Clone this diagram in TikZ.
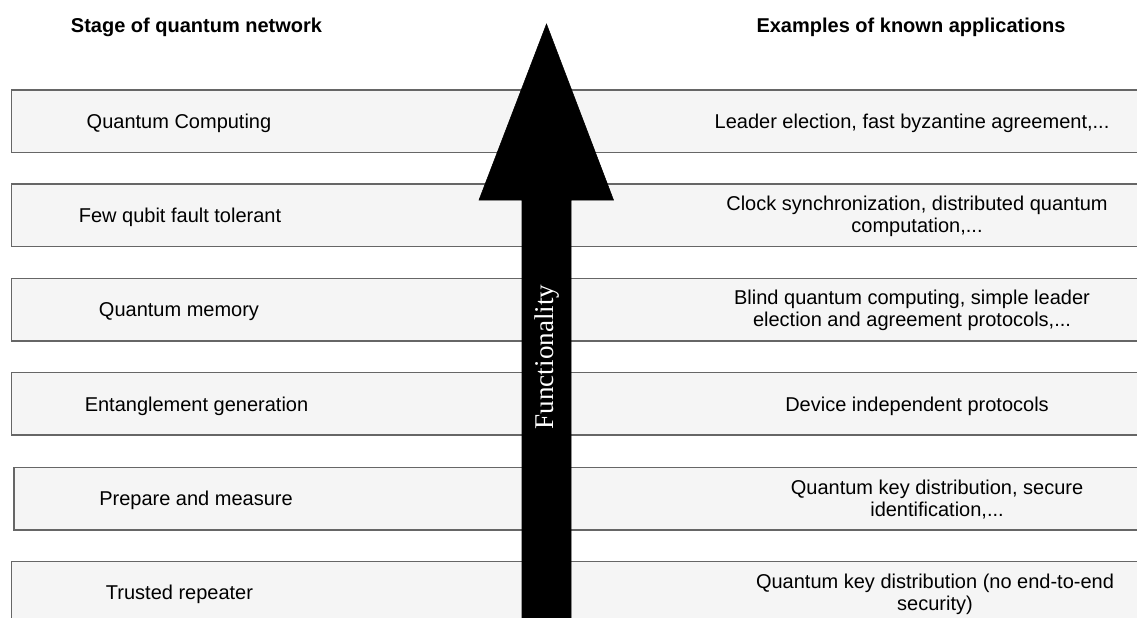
\documentclass[tikz,border=0pt]{standalone}
\usepackage{fontspec}
\setmainfont{Liberation Sans}
\newfontfamily\arrowfont{Liberation Serif}
\usepackage{xcolor}
\usepackage{tikz}
\usetikzlibrary{positioning}
\definecolor{stagefill}{HTML}{F5F5F5}
\definecolor{stageline}{HTML}{666666}
\tikzstyle{stage} = [rectangle, 
anchor=north west, 
minimum width=930pt, 
minimum height=46.9pt, 
inner sep=0pt, 
line width=1.2pt, 
draw=stageline, 
fill=stagefill]
\tikzstyle{boxtext} = [inner sep=0pt, 
align=center, 
font=\fontsize{15}{16.5}\selectfont]
\tikzstyle{header} = [inner sep=0pt, 
font=\fontsize{15}{16.5}\selectfont\bfseries]
\tikzstyle{bigarrow} = [fill=black, draw=black, line width=0.4pt]

\begin{document}
\begin{tikzpicture}[x=0.75pt, y=-0.75pt]
			\useasboundingbox (0,0) rectangle (1137,617);
			\clip (0,0) rectangle (1137,617);
			\node (stageHead)[header] at (196.5,27) {Stage of quantum network};
			\node (appHead)[header] at (911,27) {Examples of known applications};
			
			% stages, the boxes run on past the right edge
			\node (computing)[stage] at (10.5,89.3) {};
			\node (faultTolerant)[stage] at (10.5,183.3) {};
			\node (memory)[stage] at (10.5,277.5) {};
			\node (entanglement)[stage] at (10.5,371.7) {};
			\node (prepare)[stage] at (13.3,466.7) {};
			\node (repeater)[stage] at (10.5,560.7) {};
			
			\node (computingText)[boxtext] at (179,123) {Quantum Computing};
			\node (faultTolerantText)[boxtext] at (180,217) {Few qubit fault tolerant};
			\node (memoryText)[boxtext] at (179,311.5) {Quantum memory};
			\node (entanglementText)[boxtext] at (196.5,406) {Entanglement generation};
			\node (prepareText)[boxtext] at (196,500.5) {Prepare and measure};
			\node (repeaterText)[boxtext] at (179.5,594.5) {Trusted repeater};
			
			\node (computingApp)[boxtext] at (912,123) {Leader election, fast byzantine agreement,...};
			\node (faultTolerantApp)[boxtext] at (917,216) {Clock synchronization, distributed quantum\\computation,...};
			\node (memoryApp)[boxtext] at (912,310.5) {Blind quantum computing, simple leader\\election and agreement protocols,...};
			\node (entanglementApp)[boxtext] at (917,406) {Device independent protocols};
			\node (prepareApp)[boxtext] at (937,499.5) {Quantum key distribution, secure\\identification,...};
			\node (repeaterApp)[boxtext] at (935,594) {Quantum key distribution (no end-to-end\\security)};
			
			\draw [bigarrow] (546.5,24) -- (613.5,200) -- (571,200) -- (571,640) -- (522,640) -- (522,200) -- (479,200) -- cycle;
			\node (functionality)[rotate=90, inner sep=0pt, text=white, font=\arrowfont\fontsize{20.3}{24}\selectfont] at (547,357) {Functionality};
		\end{tikzpicture}
\end{document}
